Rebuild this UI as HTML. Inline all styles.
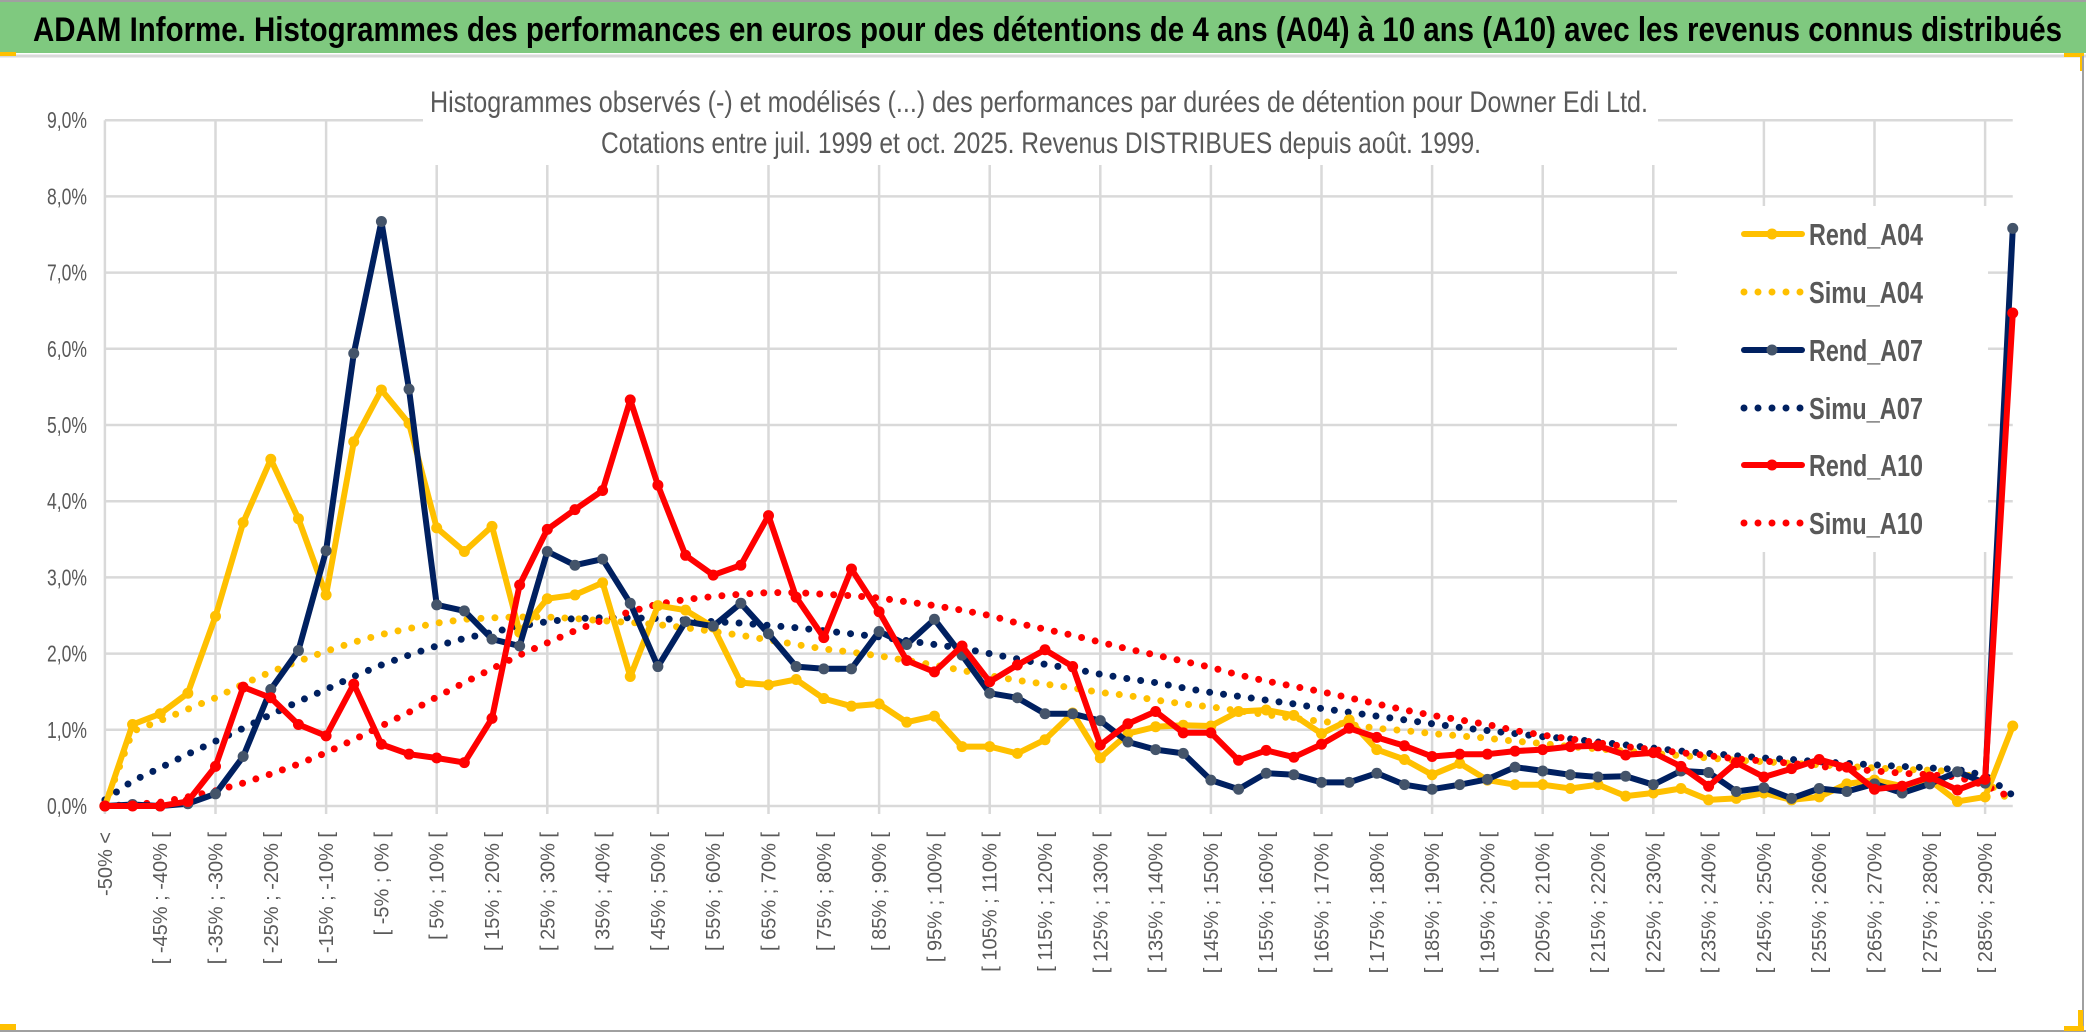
<!DOCTYPE html>
<html><head><meta charset="utf-8">
<style>
html,body{margin:0;padding:0;background:#fff;}
svg{display:block;}
text{font-family:"Liberation Sans",sans-serif;}
</style></head>
<body>
<svg id="chart" xmlns="http://www.w3.org/2000/svg" width="2086" height="1033" viewBox="0 0 2086 1033">
  <rect x="0" y="0" width="2086" height="1033" fill="#fff"/>
  <rect x="0" y="2" width="2086" height="51" fill="#7fc97f"/>
  <line x1="0" y1="1" x2="2086" y2="1" stroke="#a0a0a0" stroke-width="2"/>
  <text x="33" y="41" font-size="34" font-weight="bold" fill="#000" textLength="2029" lengthAdjust="spacingAndGlyphs">ADAM Informe. Histogrammes des performances en euros pour des détentions de 4 ans (A04) à 10 ans (A10) avec les revenus connus distribués</text>
  <line x1="0" y1="56" x2="2086" y2="56" stroke="#d9d9d9" stroke-width="3"/>
  <rect x="0" y="52" width="16" height="4" fill="#ffc000"/>
  <rect x="2064" y="53" width="20" height="4" fill="#ffc000"/>
  <rect x="2080" y="53" width="4" height="18" fill="#ffc000"/>
  <line x1="2083" y1="56" x2="2083" y2="1031" stroke="#a0a0a0" stroke-width="2"/>
  <line x1="0" y1="1031" x2="2086" y2="1031" stroke="#a0a0a0" stroke-width="2"/>
  <rect x="0" y="1024" width="16" height="6" fill="#ffc000"/>
  <rect x="2064" y="1026" width="20" height="5" fill="#ffc000"/>
  <rect x="2078" y="1010" width="5" height="20" fill="#ffc000"/>
  <g id="grid"></g>
  <rect x="423" y="84" width="1235" height="81" fill="#fff"/>
  <text x="430" y="112" font-size="30" fill="#595959" textLength="1218" lengthAdjust="spacingAndGlyphs">Histogrammes observés (-) et modélisés (...) des performances par durées de détention pour Downer Edi Ltd.</text>
  <text x="601" y="153" font-size="30" fill="#595959" textLength="880" lengthAdjust="spacingAndGlyphs">Cotations entre juil. 1999 et oct. 2025. Revenus DISTRIBUES depuis août. 1999.</text>
  <g id="yaxis"></g>
  <g id="xaxis"></g>
  <g id="series"></g>
  <rect x="1677" y="206" width="311" height="346" fill="#fff"/>
  <g id="legend"></g>
</svg>
<script>
const categories = ["-50% <"];
for (let k = 1; k < 70; k++) { categories.push("[ " + (-55 + 5 * k) + "% ; " + (-50 + 5 * k) + "% ["); }
const yTicks = [0, 1, 2, 3, 4, 5, 6, 7, 8, 9];
const yTickLabels = ["0,0%", "1,0%", "2,0%", "3,0%", "4,0%", "5,0%", "6,0%", "7,0%", "8,0%", "9,0%"];
const rendA04 = [0,1.07,1.21,1.48,2.49,3.72,4.55,3.77,2.77,4.78,5.46,5.02,3.65,3.34,3.67,2.28,2.72,2.77,2.93,1.70,2.63,2.57,2.35,1.62,1.59,1.66,1.41,1.31,1.34,1.10,1.18,0.78,0.78,0.69,0.87,1.22,0.63,0.95,1.04,1.06,1.05,1.24,1.26,1.19,0.95,1.13,0.74,0.61,0.41,0.56,0.34,0.28,0.28,0.23,0.28,0.13,0.17,0.23,0.08,0.10,0.17,0.08,0.12,0.29,0.34,0.26,0.34,0.06,0.12,1.05];
const simuA04 = [0,0.98,1.12,1.27,1.42,1.6,1.76,1.9,2.03,2.15,2.25,2.33,2.4,2.45,2.47,2.48,2.48,2.46,2.43,2.41,2.38,2.34,2.29,2.24,2.18,2.12,2.06,2.02,1.97,1.91,1.85,1.78,1.71,1.65,1.6,1.55,1.49,1.45,1.39,1.34,1.3,1.25,1.2,1.15,1.11,1.07,1.02,0.99,0.95,0.92,0.89,0.85,0.82,0.78,0.75,0.72,0.69,0.66,0.63,0.6,0.58,0.56,0.54,0.52,0.5,0.48,0.47,0.45,0.33,0.04];
const rendA07 = [0,0.02,0,0.03,0.16,0.65,1.53,2.04,3.35,5.94,7.67,5.47,2.64,2.56,2.19,2.10,3.34,3.16,3.24,2.66,1.83,2.42,2.36,2.66,2.26,1.83,1.80,1.80,2.29,2.12,2.45,1.98,1.48,1.42,1.21,1.21,1.12,0.84,0.74,0.69,0.34,0.22,0.43,0.41,0.31,0.31,0.43,0.28,0.22,0.28,0.35,0.51,0.46,0.41,0.38,0.39,0.28,0.46,0.44,0.19,0.24,0.10,0.23,0.19,0.29,0.17,0.29,0.45,0.30,7.58];
const simuA07 = [0.08,0.33,0.5,0.68,0.85,1.02,1.2,1.37,1.53,1.7,1.85,1.98,2.1,2.2,2.28,2.36,2.42,2.46,2.47,2.47,2.46,2.44,2.42,2.4,2.37,2.34,2.3,2.26,2.22,2.17,2.12,2.07,2.0,1.93,1.86,1.8,1.73,1.67,1.62,1.55,1.49,1.44,1.39,1.34,1.28,1.23,1.18,1.13,1.08,1.03,0.99,0.95,0.91,0.88,0.84,0.8,0.76,0.72,0.69,0.66,0.63,0.61,0.58,0.56,0.54,0.52,0.5,0.48,0.4,0.14];
const rendA10 = [0,0,0,0.06,0.52,1.56,1.42,1.07,0.92,1.60,0.81,0.68,0.63,0.57,1.15,2.90,3.63,3.89,4.14,5.33,4.21,3.29,3.03,3.16,3.81,2.74,2.21,3.11,2.55,1.91,1.76,2.10,1.63,1.85,2.05,1.83,0.80,1.08,1.24,0.96,0.96,0.60,0.73,0.64,0.81,1.02,0.90,0.79,0.65,0.68,0.68,0.72,0.74,0.78,0.79,0.67,0.70,0.52,0.26,0.57,0.38,0.49,0.61,0.51,0.22,0.26,0.38,0.21,0.35,6.47];
const simuA10 = [0,0.02,0.05,0.12,0.2,0.3,0.42,0.55,0.7,0.87,1.05,1.23,1.43,1.62,1.8,1.98,2.14,2.3,2.44,2.55,2.65,2.71,2.75,2.78,2.8,2.8,2.78,2.76,2.73,2.68,2.63,2.57,2.5,2.4,2.32,2.24,2.15,2.06,1.98,1.9,1.82,1.72,1.64,1.57,1.5,1.42,1.34,1.26,1.19,1.13,1.07,0.99,0.93,0.88,0.83,0.78,0.74,0.7,0.66,0.62,0.59,0.56,0.52,0.49,0.46,0.43,0.41,0.38,0.27,0.1];

const NS = "http://www.w3.org/2000/svg";
const X0 = 104.9, STEP = 27.65, Y0 = 806, PER = 76.2;
function xPos(i) { return X0 + i * STEP; }
function yPos(v) { return Y0 - v * PER; }
function mk(tag, attrs, parent) {
  const e = document.createElementNS(NS, tag);
  for (const k in attrs) e.setAttribute(k, attrs[k]);
  parent.appendChild(e);
  return e;
}
const grid = document.getElementById('grid');
const xRight = xPos(categories.length - 1);
yTicks.forEach(function (t) {
  const l = mk('line', {x1: X0, y1: yPos(t), x2: xRight, y2: yPos(t), stroke: '#d9d9d9', 'stroke-width': 2.5}, grid);
  
  
});
for (let i = 0; i < categories.length; i += 4) {
  const l = mk('line', {x1: xPos(i), y1: yPos(yTicks[yTicks.length - 1]), x2: xPos(i), y2: Y0 + 8, stroke: '#d9d9d9', 'stroke-width': 2.5}, grid);
  
  
}
const yaxis = document.getElementById('yaxis');
yTicks.forEach(function (t, k) {
  const tx = mk('text', {x: 87, y: yPos(t) + 8, 'text-anchor': 'end', 'font-size': 23, fill: '#595959', textLength: 40, lengthAdjust: 'spacingAndGlyphs'}, yaxis);
  tx.textContent = yTickLabels[k];
  
  
});
const xaxis = document.getElementById('xaxis');
for (let i = 0; i < categories.length; i += 2) {
  const cx = xPos(i) + 7;
  const tx = mk('text', {x: 0, y: 0, 'text-anchor': 'end', 'font-size': 20, fill: '#595959', transform: 'translate(' + cx + ',832) rotate(-90)'}, xaxis);
  tx.textContent = categories[i];
  
  
}
const seriesG = document.getElementById('series');
const seriesList = [
  {name: 'Simu_A04', data: simuA04, color: '#ffc000', dotted: true},
  {name: 'Simu_A07', data: simuA07, color: '#002060', dotted: true},
  {name: 'Simu_A10', data: simuA10, color: '#ff0000', dotted: true},
  {name: 'Rend_A04', data: rendA04, color: '#ffc000', marker: '#ffc000'},
  {name: 'Rend_A07', data: rendA07, color: '#002060', marker: '#44546a'},
  {name: 'Rend_A10', data: rendA10, color: '#ff0000', marker: '#ff0000'}
];
seriesList.forEach(function (s) {
  const pts = s.data.map(function (v, i) { return xPos(i).toFixed(1) + ',' + yPos(v).toFixed(1); }).join(' ');
  const g = mk('g', {}, seriesG);
  
  
  const pl = mk('polyline', {points: pts, fill: 'none', stroke: s.color, 'stroke-width': s.dotted ? 7 : 6, 'stroke-linejoin': 'round', 'stroke-linecap': 'round'}, g);
  if (s.dotted) pl.setAttribute('stroke-dasharray', '0 14');
  
  
  if (!s.dotted) {
    s.data.forEach(function (v, i) {
      const c = mk('circle', {cx: xPos(i), cy: yPos(v), r: 5.5, fill: s.marker}, g);
      
      
    });
  }
});
const legend = document.getElementById('legend');
const legendOrder = [
  {name: 'Rend_A04', color: '#ffc000', marker: '#ffc000'},
  {name: 'Simu_A04', color: '#ffc000', dotted: true},
  {name: 'Rend_A07', color: '#002060', marker: '#44546a'},
  {name: 'Simu_A07', color: '#002060', dotted: true},
  {name: 'Rend_A10', color: '#ff0000', marker: '#ff0000'},
  {name: 'Simu_A10', color: '#ff0000', dotted: true}
];
const legendY = [234, 292, 350, 408, 465, 523];
legendOrder.forEach(function (s, k) {
  const y = legendY[k];
  const g = mk('g', {}, legend);
  
  
  const l = mk('line', {x1: 1744, y1: y, x2: 1802, y2: y, stroke: s.color, 'stroke-width': s.dotted ? 7 : 6, 'stroke-linecap': 'round'}, g);
  if (s.dotted) l.setAttribute('stroke-dasharray', '0 14');
  if (!s.dotted) mk('circle', {cx: 1772, cy: y, r: 5.5, fill: s.marker}, g);
  const t = mk('text', {x: 1809, y: y + 11, 'font-size': 31, 'font-weight': 'bold', fill: '#595959', textLength: 114, lengthAdjust: 'spacingAndGlyphs'}, g);
  t.textContent = s.name;
});
</script>
</body></html>
